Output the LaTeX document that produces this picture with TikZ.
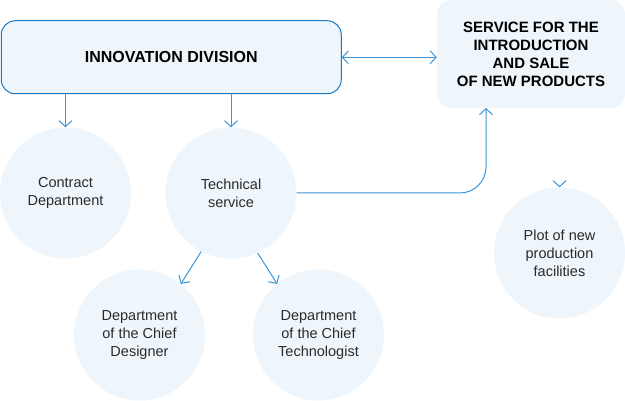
\documentclass[tikz,border=0pt]{standalone}
\usepackage{fontspec}
\setmainfont{Liberation Sans}
\usetikzlibrary{arrows.meta}

\definecolor{boxfill}{HTML}{EEF6FC}
\definecolor{boxline}{HTML}{1A78C2}
\definecolor{linkc}{HTML}{3C95D6}
\definecolor{textc}{HTML}{2A2A2A}

\begin{document}
\begin{tikzpicture}[x=1pt, y=-1pt,
    >={Straight Barb[length=6pt,width=13pt]},
    link/.style={draw=linkc, line width=1pt},
    unit/.style={circle, fill=boxfill, minimum size=131pt, inner sep=0pt, align=center,
        text=textc, font=\fontsize{14.5}{18}\selectfont},
    head/.style={rectangle, fill=boxfill, inner sep=0pt, align=center,
        font=\fontsize{15}{18}\selectfont\bfseries}]

    \useasboundingbox (0,0) rectangle (625,401);

    \node[head, draw=boxline, line width=1pt, rounded corners=14pt, minimum width=340pt, minimum height=73pt, font=\fontsize{16}{18}\selectfont\bfseries] (innov) at (171.25,57.25) {INNOVATION DIVISION};
    \node[head, rounded corners=15pt, minimum width=188pt, minimum height=108pt] (service) at (531,54) {SERVICE FOR THE\\INTRODUCTION\\AND SALE\\OF NEW PRODUCTS};

    \node[unit] (contract) at (65.5,193) {Contract\\Department};
    \node[unit] (tech) at (231,193) {Technical\\service};
    \node[unit] (designer) at (139.5,335) {Department\\of the Chief\\Designer};
    \node[unit] (technologist) at (318.5,335) {Department\\of the Chief\\Technologist};
    \node[unit] (plot) at (559.5,253) {Plot of new\\production\\facilities};

    \coordinate (svcin) at (486,108);
    \coordinate (plotin) at ([yshift=1pt]plot.north);

    \draw[link, <->] (innov.east) -- (innov.east -| service.west);
    \draw[link, ->] (contract.north |- innov.south) -- (contract.north);
    \draw[link, ->] (tech.north |- innov.south) -- (tech.north);
    \draw[link, ->, rounded corners=26pt] (tech.east) -| (svcin);

    \draw[link, ->] (tech.243) -- (designer.51);
    \draw[link, ->] (tech.294) -- (technologist.129);

    \draw[link, ->] (plotin) -- (plot.north);

\end{tikzpicture}
\end{document}
